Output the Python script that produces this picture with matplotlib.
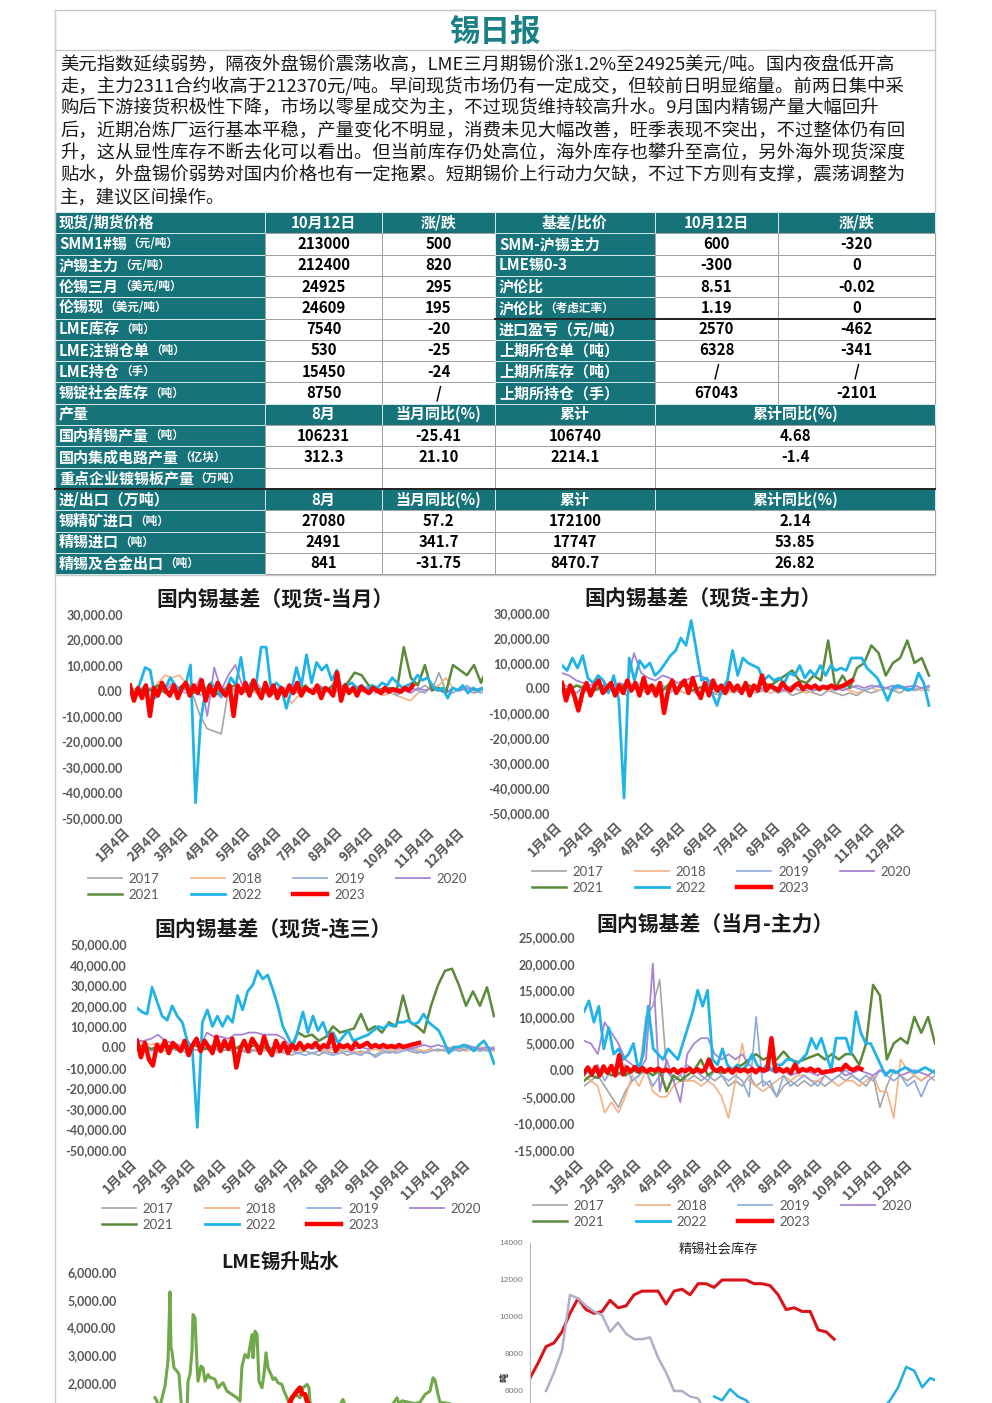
import matplotlib
matplotlib.use("Agg")
import matplotlib.pyplot as plt
import numpy as np
from matplotlib.patches import Rectangle

plt.rcParams["font.family"] = ["Noto Sans CJK SC", "DejaVu Sans"]

W, H = 992, 1403
TEAL = "#16737a"
GRID = "#a0a0a0"

# ---------------- report text ----------------
REPORT_TITLE = "锡日报"
REPORT_LINES = [
    "美元指数延续弱势，隔夜外盘锡价震荡收高，LME三月期锡价涨1.2%至24925美元/吨。国内夜盘低开高",
    "走，主力2311合约收高于212370元/吨。早间现货市场仍有一定成交，但较前日明显缩量。前两日集中采",
    "购后下游接货积极性下降，市场以零星成交为主，不过现货维持较高升水。9月国内精锡产量大幅回升",
    "后，近期冶炼厂运行基本平稳，产量变化不明显，消费未见大幅改善，旺季表现不突出，不过整体仍有回",
    "升，这从显性库存不断去化可以看出。但当前库存仍处高位，海外库存也攀升至高位，另外海外现货深度",
    "贴水，外盘锡价弱势对国内价格也有一定拖累。短期锡价上行动力欠缺，不过下方则有支撑，震荡调整为",
    "主，建议区间操作。",
]

# ---------------- table ----------------
PRICE_HEAD = ["现货/期货价格", "10月12日", "涨/跌", "基差/比价", "10月12日", "涨/跌"]
PRICE_NAMES = ["SMM1#锡", "沪锡主力", "伦锡三月", "伦锡现", "LME库存", "LME注销仓单", "LME持仓", "锡锭社会库存"]
PRICE_UNITS = ["（元/吨）", "（元/吨）", "（美元/吨）", "（美元/吨）", "（吨）", "（吨）", "（手）", "（吨）"]
PRICE_VALUES = ["213000", "212400", "24925", "24609", "7540", "530", "15450", "8750"]
PRICE_CHANGES = ["500", "820", "295", "195", "-20", "-25", "-24", "/"]
BASIS_NAMES = ["SMM-沪锡主力", "LME锡0-3", "沪伦比", "沪伦比", "进口盈亏（元/吨）", "上期所仓单（吨）", "上期所库存（吨）", "上期所持仓（手）"]
BASIS_UNITS = ["", "", "", "（考虑汇率）", "", "", "", ""]
BASIS_VALUES = ["600", "-300", "8.51", "1.19", "2570", "6328", "/", "67043"]
BASIS_CHANGES = ["-320", "0", "-0.02", "0", "-462", "-341", "/", "-2101"]

PROD_HEAD = ["产量", "8月", "当月同比(%)", "累计", "累计同比(%)"]
PROD_NAMES = ["国内精锡产量", "国内集成电路产量", "重点企业镀锡板产量"]
PROD_UNITS = ["（吨）", "（亿块）", "（万吨）"]
PROD_MONTH = ["106231", "312.3", ""]
PROD_YOY = ["-25.41", "21.10", ""]
PROD_CUM = ["106740", "2214.1", ""]
PROD_CUM_YOY = ["4.68", "-1.4", ""]

TRADE_HEAD = ["进/出口（万吨）", "8月", "当月同比(%)", "累计", "累计同比(%)"]
TRADE_NAMES = ["锡精矿进口", "精锡进口", "精锡及合金出口"]
TRADE_UNITS = ["（吨）", "（吨）", "（吨）"]
TRADE_MONTH = ["27080", "2491", "841"]
TRADE_YOY = ["57.2", "341.7", "-31.75"]
TRADE_CUM = ["172100", "17747", "8470.7"]
TRADE_CUM_YOY = ["2.14", "53.85", "26.82"]

# ---------------- basis charts (day of year series) ----------------
YEARS = ["2017", "2018", "2019", "2020", "2021", "2022", "2023"]
MONTH_DAYS = [3, 34, 62, 93, 123, 154, 184, 215, 246, 276, 307, 337]
MONTH_LABELS = [f"{m}月4日" for m in range(1, 13)]

# 现货-当月
C1_2017 = [0, 1000, -1000, 0, 1000, 0, -1000, 1000, 0, -2000, -10000, -15000, -16000, -17000, 0, 1000, 0, -1000, 1000, 0,
           -1000, 0, 1000, -1000, 0, 1000, 0, -1000, 0, 1000, 0, -1000, 1000, 0, -1000, 0, 1000, 0, -1000, 0,
           1000, 0, 2000, 0, 7000, 0, -1000, 1000, 0, -1000, 0, 1000]
C1_2018 = [0, -1000, 1000, 0, 3000, 6000, 5000, 6000, 3000, 1000, 0, -1000, 1000, 0, 2000, -1000, 1000, 0, -1000, 1000,
           0, -2000, -1000, -5000, -2000, 0, -1000, 1000, 0, -1000, 0, 1000, -1000, 0, -1000, 0, -2000, -1000, -2000, -3000,
           -4000, -1000, 0, 1000, 2000, 5000, 1000, 0, 1000, 0, 1000, 0]
C1_2019 = [1000, -1000, 2000, 0, -2000, 1000, 3000, 0, -1000, 2000, -2000, 1000, 0, -3000, 2000, 0, 1000, -1000, 3000, 0,
           -2000, 1000, 0, 2000, -1000, 0, 1000, -2000, 0, 3000, 0, -1000, 1000, 0, 2000, -1000, 0, 1000, -2000, 0,
           1000, 0, -1000, 2000, 0, -1000, 1000, 0, 2000, 0, -1000, 1000]
C1_2020 = [1000, -2000, 0, 1000, -1000, 0, 2000, 0, 1000, -1000, 5000, -10000, 9000, 0, 6000, 10000, 2000, 1000, 0, 1000,
           -1000, 0, 1000, 0, -1000, 1000, 0, 2000, 0, 1000, -1000, 0, 1000, 0, 1000, 0, -1000, 0, 1000, 0,
           -1000, 1000, 0, 1000, 0, -1000, 1000, 0, 1000, 0, 1000, 0]
C1_2021 = [0, -1000, 1000, 0, 2000, -1000, 0, 1000, 3000, -1000, 0, 1000, -2000, 0, 1000, 2000, 0, -1000, 1000, 0,
           -2000, 0, -1000, 1000, 0, 2000, -1000, 1000, 0, 2000, 1000, 3000, 7000, 6000, 2000, 1000, 0, 1000, 0, 17000,
           5000, 2000, 10000, 0, 1000, -1000, 10000, 8000, 6000, 10000, 3000, 10000]
C1_2022 = [0, -2000, 3000, 9000, 8000, -3000, 2000, 1000, 5000, 2000, 0, 2000, 10000, -44000, -12000, 0, 3000, 1000, -2000, 0,
           5000, 2000, 13000, 0, 3000, 2000, 17000, 17000, 0, 3000, 1000, -7000, 0, 9000, 2000, 14000, 3000, 11000, 8000, 10000,
           4000, 8000, 0, 2000, 3000, 1000, 2000, 0, 2000, 1000, 3000, 2000, 5000, 3000, 1000, 2000, 3000, 6000, 4000, 5000,
           2000, 0, 1000, -3000, 1000, 0, 2000, -1000, 1000, 0, 1000, 0]
C1_2023 = [2000, -4000, 1000, -3000, 2000, -10000, 1000, -2000, 3000, 0, -2000, 2000, -3000, 1000, 3000, -2000, 2000, -1000, 4000, -4000,
           2000, -2000, 3000, 0, -2000, 2000, -10000, 2000, -1000, 3000, -2000, 4000, 0, -3000, 3000, -2000, 2000, -3000, 1000, -2000,
           2000, -1000, 3000, -2000, 1000, 0, -1000, 2000, -3000, 1000, 0, -2000, 7000, -4000, 2000, -1000, 1000, -2000, 1500, 0,
           -1000, 1000, 0, -1000, 1000, -500, 500, 0, -500, 1000, 0, 2000]

# 现货-主力
C2_2017 = [0, -1000, -2000, 0, -1000, 1000, -2000, 0, -1000, -3000, 0, -1000, -2000, 0, 1000, -1000, 0, -2000, -1000, 0,
           -1000, -2000, -3000, -1000, -2000, 0, -1000, -2000, -1000, 0, -2000, -1000, -3000, -2000, -1000, -2000, -3000, -1000, -2000, -3000,
           -2000, -3000, -1000, -2000, -1000, 0, -1000, -2000, 0, -1000, 0, -1000]
C2_2018 = [-1000, 0, 1000, 0, -1000, 0, 1000, -1000, 0, 1000, 0, -1000, 0, 1000, 0, -1000, 0, -2000, -1000, 0,
           -1000, 0, -1000, -2000, -1000, 0, -1000, 0, -1000, -2000, -1000, -1000, 0, -1000, -2000, -1000, 0, -1000, -1000, 0,
           -1000, -2000, -1000, 0, -1000, 0, -1000, 0, -1000, 0, -1000, 0]
C2_2019 = [2000, 0, -2000, 1000, 0, -1000, 2000, 0, -2000, 1000, 0, 2000, -1000, 0, 1000, -2000, 0, 1000, -1000, -3000,
           0, -2000, 1000, 0, -1000, -2000, 0, 1000, -1000, 0, -2000, 0, 1000, -1000, 0, -1000, 1000, 0, -1000, 0,
           1000, 0, -1000, 0, 1000, 0, -1000, 1000, 0, -1000, 0, 1000]
C2_2020 = [6000, 5000, 3000, 2000, 1000, 2000, 0, 1000, 2000, 1000, 14000, 6000, 4000, 3000, 5000, 4000, 2000, 3000, 4000, 5000,
           4000, 2000, 0, 1000, -1000, 0, 1000, -1000, 0, 1000, 0, -1000, 0, 1000, 0, -1000, 0, 1000, 0, -1000,
           0, 1000, 0, 1000, 500, 0, 1000, 0, 500, 1000, 0, 500]
C2_2021 = [0, -1000, 1000, 0, -2000, 0, 1000, -1000, 0, 2000, 0, -1000, 1000, 0, -1000, 2000, 0, 1000, -1000, 0,
           1000, 0, -2000, 1000, 0, -1000, 1000, 0, 2000, 1000, 3000, 5000, 7000, 3000, 2000, 5000, 3000, 19000, 0, 5000,
           0, 8000, 10000, 17000, 14000, 5000, 10000, 12000, 19000, 10000, 12000, 5000]
C2_2022 = [9000, 7000, 12000, 8000, 13000, 4000, 2000, 5000, 3000, -2000, 5000, -5000, -44000, 12000, 3000, 11000, 8000, 10000, 5000, 7000,
           10000, 13000, 15000, 20000, 17000, 27000, 15000, 3000, 4000, -2000, -7000, 0, 3000, 15000, 5000, 12000, 10000, 9000, 8000, 3000,
           5000, 3000, 4000, 2000, 6000, 5000, 9000, 4000, 7000, 5000, 9000, 5000, 9000, 7000, 8000, 7000, 12000, 12000, 12000, 8000,
           6000, 4000, 0, -5000, 0, 1000, 0, -1000, 0, 6000, 2000, -7000]
C2_2023 = [2000, -5000, 1000, -3000, -9000, -2000, 2000, -3000, 1000, 3000, -2000, 0, 2000, -3000, 1000, -2000, 3000, -1000, 2000, -3000,
           4000, -2000, 1000, -3000, 2000, -10000, -1000, 3000, -2000, 1000, 3000, -2000, 4000, -1000, -4000, 2000, -3000, 3000, -1000, 1000,
           -2000, 2000, -1000, 1000, -2000, 2000, -3000, 1000, -1000, 5000, -1000, 1000, 0, -1000, 2000, 0, -1000, 1000, 2000, -500,
           1000, 0, 1000, -500, 500, 0, 1000, 0, 500, 1000, 2000, 3000]

# 现货-连三
C3_2017 = [1000, 0, -1000, 0, -2000, -1000, 0, -3000, -1000, -2000, 0, -1000, -2000, -1000, 0, -2000, -3000, -1000, -2000, -1000,
           -3000, -2000, -4000, -3000, -2000, -3000, -4000, -2000, -3000, -2000, -4000, -3000, -2000, -3000, -4000, -2000, -3000, -2000, -1000, -2000,
           -3000, -2000, -1000, -2000, -1000, -2000, -1000, 0, -1000, -2000, -1000, 0]
C3_2018 = [3000, 2000, 1000, 2000, 0, 1000, -1000, 0, 1000, 0, -1000, 0, -2000, -1000, 0, -1000, -2000, -1000, 0, -2000,
           -3000, -2000, -1000, -2000, -1000, 0, -1000, -2000, -1000, -2000, -1000, -2000, -3000, -2000, -1000, -2000, -1000, -2000, -1000, 0,
           -1000, -2000, -1000, -2000, -1000, 0, -1000, -2000, -1000, 0, -1000, -2000]
C3_2019 = [0, -1000, -2000, -1000, 0, -1000, -2000, 0, -1000, -2000, -1000, 0, -2000, -1000, -3000, -2000, -1000, -2000, -1000, 0,
           -2000, -3000, -2000, -3000, -4000, -3000, -2000, -3000, -4000, -3000, -2000, -3000, -4000, -2000, -5000, -3000, -2000, -3000, -2000, -1000,
           -2000, -3000, -2000, -1000, -2000, -1000, -2000, -1000, 0, -1000, -2000, -1000]
C3_2020 = [3000, 3000, 4000, 6000, 3000, 2000, 1000, 0, 1000, 0, 7000, 5000, 5000, 4000, 6000, 6000, 7000, 7000, 6000, 6000,
           6000, 4000, 0, -1000, 0, -1000, 0, -1000, 0, -1000, 0, -1000, 0, -1000, 0, -1000, 0, -1000, 0, -1000,
           0, 1000, 0, 1000, 0, -1000, 0, 1000, 0, -1000, 0, -1000]
C3_2021 = [0, 1000, -1000, 0, 1000, 0, -1000, 0, 1000, 0, -1000, 1000, 0, 0, -1000, 1000, 0, 1000, 0, -1000,
           0, 1000, 0, 7000, 5000, 6000, 3000, 5000, 10000, 7000, 8000, 9000, 16000, 8000, 10000, 7000, 12000, 10000, 25000, 12000,
           10000, 7000, 20000, 30000, 37000, 38000, 30000, 20000, 27000, 20000, 29000, 15000]
C3_2022 = [19000, 17000, 16000, 29000, 22000, 15000, 13000, 20000, 15000, 12000, 3000, -1000, -39000, 12000, 18000, 10000, 15000, 10000, 15000, 12000,
           25000, 18000, 27000, 30000, 37000, 33000, 35000, 28000, 20000, 10000, 5000, 0, 8000, 17000, 7000, 15000, 8000, 12000, 5000, 7000,
           2000, 5000, 8000, 3000, 4000, 5000, 6000, 8000, 10000, 9000, 11000, 10000, 12000, 12000, 13000, 11000, 12000, 16000, 12000, 10000,
           8000, 3000, -3000, 0, 0, 1000, 0, -2000, 1000, 3000, -1000, -8000]
C3_2023 = [3000, -5000, 2000, -6000, -9000, 1000, -2000, 3000, -3000, 2000, 0, -2000, 3000, -4000, 1000, 4000, -2000, 3000, 0, -3000,
           5000, -2000, 3000, -1000, 4000, -10000, -1000, 3000, -2000, 4000, 1000, -3000, 5000, -1000, -4000, 3000, -2000, 2000, -3000, 1000,
           -1000, 2000, -1000, 1000, 0, 2000, -1000, 1000, 0, 6000, -2000, 1000, 0, 1000, -1000, 2000, 0, 1000, 2000, 0,
           1000, 0, 1000, 0, 500, 0, 1000, 0, 500, 1000, 1500, 2000]

# 当月-主力
C4_2017 = [-3000, -2000, -1000, -3000, -5000, -7000, -4000, -2000, -1000, 10000, 12000, 17000, 0, -2000, -1000, -2000, -1000, -2000, -1000, -2000,
           -1000, -3000, -2000, -3000, -1000, -3000, -2000, -3000, -5000, -3000, -2000, -3000, -2000, -3000, -2000, -3000, -2000, -1000, -2000, -1000,
           -2000, -3000, -1000, -7000, -3000, 0, -1000, -2000, -1000, -2000, -1000, -2000]
C4_2018 = [-1000, -2000, -3000, -8000, -6000, -8000, -5000, -1000, -3000, 0, -4000, -5000, -5000, -3000, -2000, -2000, -2000, -3000, -2000, -3000,
           -5000, -9000, -2000, 5000, -2000, -3000, -4000, -3000, -2000, -1000, -2000, -1000, -1000, -2000, -2000, -1000, -2000, -3000, -2000, -2000,
           -3000, -2000, -1000, -4000, -4000, -9000, 2000, 0, -1000, -2000, -1000, -2000]
C4_2019 = [-1000, 0, 1000, -2000, 0, -1000, 1000, -2000, -1000, 0, -3000, -1000, 0, -2000, -1000, 1000, 0, -1000, -2000, 0,
           -1000, -2000, -1000, -2000, -5000, 10000, -3000, -2000, -5000, -1000, -3000, -2000, -1000, -2000, -3000, -1000, -2000, -1000, 0, -1000,
           -2000, -1000, -2000, 0, -1000, -2000, -1000, -3000, -2000, -5000, -2000, -1000]
C4_2020 = [5500, 5000, 3000, 9000, 7000, 5000, 2000, 1000, 0, 2000, 20000, -4000, 2000, -2000, -6000, 3000, 5000, 6000, 6000, 3000,
           2000, 3000, 2000, 3000, 1000, 0, -500, 0, -500, 0, -1000, -500, 0, -500, -1000, 0, -500, 0, -1000, -500,
           0, -500, -1000, 0, -500, 0, -1000, -500, 0, -500, -1000, 0]
C4_2021 = [-2000, -1000, -1500, 0, -1000, -500, -1000, 0, -500, 0, -1000, 0, -4000, -1000, -2000, -1000, 0, 2000, -1000, 0,
           -500, 0, 500, 1000, 2000, 3000, 2000, 2500, 2000, 3500, 2000, 1500, 2000, 2500, 3000, 2000, 3000, 2000, 3000, 3000,
           1000, 5000, 16000, 14000, 2000, 5000, 6000, 5000, 10000, 7000, 10000, 5000]
C4_2022 = [11000, 13000, 9000, 12000, 4000, 8000, 3000, 4000, 2000, 3000, 5000, 0, 3000, 12000, 4000, 3000, 2000, 4000, 3000, 2000,
           5000, 8000, 11000, 15000, 12000, 15000, 2000, 1000, 4000, 1000, 0, 1000, 0, 1000, 3000, 1000, 0, 1000, 0, 1000,
           1000, 2000, 2000, 1000, 2000, 3000, 6000, 4000, 6000, 3000, 0, 6000, 6000, 6000, 3000, 11000, 7000, 5000, 5000, 3000,
           1000, -1000, 0, -500, 0, 500, 0, -500, 0, 500, 0, -500]
C4_2023 = [-500, 500, -800, 600, -1000, 700, -500, 800, -1000, 2800, -800, 500, -300, 600, -200, 400, -300, 200, -100, 300,
           -200, 100, -300, 200, -500, 100, -200, 300, -400, 200, -300, 100, 2000, 300, -200, 400, -300, 200, -500, 300,
           -200, 100, -300, 200, -400, 300, -100, 200, 6000, -200, 300, -300, 200, -500, 1000, -300, 200, -100, 300, -200,
           100, -500, -300, -200, 0, 200, 100, 1000, 300, 0, 500, 200]

# LME升贴水 (day of year, value)
LME_GREEN_DAYS = [30, 32, 34, 36, 40, 43, 45, 46, 47, 49, 52, 54, 56, 58, 62, 63, 65, 67, 68, 70, 72, 73, 76, 78, 80, 83, 85, 87,
                  90, 93, 96, 98, 102, 107, 112, 115, 117, 120, 123, 127, 128, 130, 132, 134, 137, 139, 141, 143, 146, 148,
                  150, 153, 157, 159, 162, 163, 167, 170, 175, 178, 182, 184, 185, 190, 200, 210, 218, 220, 230, 245, 260,
                  272, 274, 277, 290, 295, 300, 305, 308, 310, 313, 315, 325, 335]
LME_GREEN = [1460, 1340, 1000, 1300, 1880, 2780, 5280, 3260, 3140, 2540, 2420, 2300, 1340, 800, 900, 2060, 2300, 3140, 4460, 4340,
             2660, 2060, 2600, 2540, 2060, 2300, 2180, 2180, 2120, 1820, 1940, 2000, 1700, 1580, 1460, 1340, 2600, 3020, 2900,
             3740, 2900, 3860, 3740, 2060, 1820, 2300, 3080, 2540, 2300, 2120, 2180, 2000, 1940, 1700, 1460, 1340, 1460, 1580,
             1460, 1820, 1940, 1820, 1300, 800, 600, 900, 1400, 1200, 700, 900, 800, 1460, 1250, 1350, 1250, 1300, 1580, 1700,
             2180, 2100, 1580, 1300, 1250, 900]
LME_RED_DAYS = [150, 158, 164, 167, 170, 172, 175, 177, 180, 182, 184, 190]
LME_RED = [700, 900, 1200, 1460, 1600, 1700, 1820, 1600, 1580, 1340, 1200, 900]

# 精锡社会库存 (weekly)
STOCK_RED = [6700, 7500, 8400, 8600, 9200, 10200, 11000, 10400, 10200, 10300, 10900, 10500, 10600, 11200, 11400, 11400, 11400,
             10700, 11400, 11500, 11200, 11800, 11800, 11600, 12000, 12000, 12000, 12000, 11800, 11800, 11700, 11200, 10400,
             10500, 10300, 10300, 9300, 9200, 8800]
STOCK_GRAY = [6000, 7000, 8200, 11200, 11000, 10600, 10300, 10100, 9200, 9700, 9100, 8800, 8800, 8900, 7800, 7000, 6000, 6000,
              5700, 5600, 4800, 4200, 3800, 3500]
STOCK_BLUE = [5700, 5500, 6100, 5700, 5500, 5000, 4600, 4300, 4000, 3800, 3600, 3500, 3400, 3300, 3400, 3500, 3700, 3900, 4200,
              4500, 4700, 5000, 5500, 6200, 7300, 7100, 6200, 6700, 6500]

COLORS = {"2017": "#a5a5a5", "2018": "#f4b183", "2019": "#8ea9db", "2020": "#a884d6",
          "2021": "#5a8a3a", "2022": "#1fb3e8", "2023": "#ff0000"}
WIDTHS = {"2017": 1.2, "2018": 1.2, "2019": 1.2, "2020": 1.3, "2021": 1.8, "2022": 2.0, "2023": 3.2}
YEAR_END, RED_END = 357, 282

fig = plt.figure(figsize=(W / 100, H / 100), dpi=100)
page = fig.add_axes([0, 0, 1, 1])
page.set_xlim(0, W)
page.set_ylim(H, 0)
page.axis("off")


def px_axes(left, top, right, bottom):
    ax = fig.add_axes([left / W, 1 - bottom / H, (right - left) / W, (bottom - top) / H])
    ax.set_facecolor("none")
    return ax


# ---------- header + paragraph ----------
page.add_patch(Rectangle((55, 10), 880, 565, facecolor="none", edgecolor="#c8c8c8", lw=1))
page.plot([55, 935], [50, 50], color="#c8c8c8", lw=1)
page.plot([55, 55], [10, H], color="#cfcfcf", lw=1)
page.text(495, 32, REPORT_TITLE, ha="center", va="center", fontsize=22, fontweight="bold", color="#1b8085")
for i, line in enumerate(REPORT_LINES):
    page.text(60, 65 + i * 22.1, line, ha="left", va="center", fontsize=13.2, color="#1a1a1a")

# ---------- table ----------
ROW_TOP, ROW_H = 212, 21.3
PRICE_COLS = [55, 265, 382, 495, 655, 778, 935]
PROD_COLS = [55, 265, 382, 495, 655, 935]


def cell(x0, x1, row, teal):
    y0 = ROW_TOP + row * ROW_H
    page.add_patch(Rectangle((x0, y0), x1 - x0, ROW_H, facecolor=TEAL if teal else "white",
                             edgecolor="#d8e8e8" if teal else GRID, lw=0.7))
    return y0 + ROW_H / 2


def label(x, y, name, unit, color="white", size=10.8):
    t = page.text(x, y, name, ha="left", va="center", fontsize=size, fontweight="bold", color=color)
    if unit:
        page.annotate(unit, xy=(1, 0.5), xycoords=t, ha="left", va="center",
                      fontsize=8.4, fontweight="bold", color=color)


def centered(x0, x1, y, s, color="black"):
    page.text((x0 + x1) / 2, y, s, ha="center", va="center", fontsize=10.8, fontweight="bold", color=color)


# price / basis block
for c in range(6):
    y = cell(PRICE_COLS[c], PRICE_COLS[c + 1], 0, True)
    if c == 0:
        label(59, y, PRICE_HEAD[0], "")
    else:
        centered(PRICE_COLS[c], PRICE_COLS[c + 1], y, PRICE_HEAD[c], "white")
for r in range(8):
    row = r + 1
    y = cell(PRICE_COLS[0], PRICE_COLS[1], row, True)
    label(59, y, PRICE_NAMES[r], PRICE_UNITS[r])
    cell(PRICE_COLS[1], PRICE_COLS[2], row, False)
    centered(PRICE_COLS[1], PRICE_COLS[2], y, PRICE_VALUES[r])
    cell(PRICE_COLS[2], PRICE_COLS[3], row, False)
    centered(PRICE_COLS[2], PRICE_COLS[3], y, PRICE_CHANGES[r])
    cell(PRICE_COLS[3], PRICE_COLS[4], row, True)
    label(499, y, BASIS_NAMES[r], BASIS_UNITS[r])
    cell(PRICE_COLS[4], PRICE_COLS[5], row, False)
    centered(PRICE_COLS[4], PRICE_COLS[5], y, BASIS_VALUES[r])
    cell(PRICE_COLS[5], PRICE_COLS[6], row, False)
    centered(PRICE_COLS[5], PRICE_COLS[6], y, BASIS_CHANGES[r])
page.plot([495, 935], [ROW_TOP + 5 * ROW_H] * 2, color="#222222", lw=1.4)


def block(first_row, head, names, units, cols_data):
    for c in range(5):
        y = cell(PROD_COLS[c], PROD_COLS[c + 1], first_row, True)
        if c == 0:
            label(59, y, head[0], "")
        else:
            centered(PROD_COLS[c], PROD_COLS[c + 1], y, head[c], "white")
    for r in range(3):
        row = first_row + 1 + r
        y = cell(PROD_COLS[0], PROD_COLS[1], row, True)
        label(59, y, names[r], units[r])
        for c in range(4):
            cell(PROD_COLS[c + 1], PROD_COLS[c + 2], row, False)
            centered(PROD_COLS[c + 1], PROD_COLS[c + 2], y, cols_data[c][r])


block(9, PROD_HEAD, PROD_NAMES, PROD_UNITS, [PROD_MONTH, PROD_YOY, PROD_CUM, PROD_CUM_YOY])
block(13, TRADE_HEAD, TRADE_NAMES, TRADE_UNITS, [TRADE_MONTH, TRADE_YOY, TRADE_CUM, TRADE_CUM_YOY])
page.plot([55, 935], [ROW_TOP + 13 * ROW_H] * 2, color="#222222", lw=1.4)


# ---------- basis charts ----------
def basis_chart(box, xmax, ylim, ystep, series, title, title_xy, legend_xy, ypad):
    ax = px_axes(*box)
    lines = []
    for year, vals in zip(YEARS, series):
        end = RED_END if year == "2023" else YEAR_END
        x = np.linspace(0, end, len(vals))
        ln, = ax.plot(x, vals, color=COLORS[year], lw=WIDTHS[year], label=year, solid_joinstyle="round")
        lines.append(ln)
    ax.set_xlim(0, xmax)
    ax.set_ylim(*ylim)
    yt = np.arange(ylim[0], ylim[1] + 1, ystep)
    ax.set_yticks(yt)
    ax.set_yticklabels([f"{v:,.2f}" for v in yt], fontfamily="Lato", fontsize=9, fontweight="bold", color="#595959")
    ax.set_xticks(MONTH_DAYS)
    ax.set_xticklabels(MONTH_LABELS, rotation=45, ha="right", va="top", fontsize=9.5,
                       fontweight="bold", color="#595959")
    ax.tick_params(axis="both", length=0)
    ax.tick_params(axis="y", pad=ypad * 0.72)
    ax.tick_params(axis="x", pad=5)
    for s in ax.spines.values():
        s.set_visible(False)
    page.text(title_xy[0], title_xy[1], title, ha="center", va="center", fontsize=15, fontweight="bold", color="#1a1a1a")
    order = [0, 4, 1, 5, 2, 6, 3]
    ax.legend([lines[i] for i in order], [YEARS[i] for i in order], loc="upper left", ncol=4,
              bbox_to_anchor=legend_xy, bbox_transform=page.transData, frameon=False, borderpad=0,
              borderaxespad=0, handlelength=2.6, handletextpad=0.5, columnspacing=2.35, labelspacing=0.3,
              prop={"family": "Lato", "size": 9.5}, labelcolor="#595959")
    return ax


basis_chart((130, 614, 483, 818), 352, (-50000, 30000), 10000,
            [C1_2017, C1_2018, C1_2019, C1_2020, C1_2021, C1_2022, C1_2023],
            "国内锡基差（现货-当月）", (275, 600), (88, 873), 7)
basis_chart((562, 613, 932, 813), 360, (-50000, 30000), 10000,
            [C2_2017, C2_2018, C2_2019, C2_2020, C2_2021, C2_2022, C2_2023],
            "国内锡基差（现货-主力）", (703, 599), (532, 866), 12)
basis_chart((137, 944, 495, 1150), 358, (-50000, 50000), 10000,
            [C3_2017, C3_2018, C3_2019, C3_2020, C3_2021, C3_2022, C3_2023],
            "国内锡基差（现货-连三）", (273, 930), (102, 1203), 10)
basis_chart((584, 937, 935, 1150), 357, (-15000, 25000), 5000,
            [C4_2017, C4_2018, C4_2019, C4_2020, C4_2021, C4_2022, C4_2023],
            "国内锡基差（当月-主力）", (715, 925), (533, 1200), 9)

# ---------- LME 升贴水 ----------
ax5 = px_axes(125, 1258, 490, 1466)
ax5.plot(LME_GREEN_DAYS, LME_GREEN, color="#70a84a", lw=2.2, solid_joinstyle="round")
ax5.plot(LME_RED_DAYS, LME_RED, color="#ff0000", lw=3.5, solid_joinstyle="round")
ax5.set_xlim(0, 365)
ax5.set_ylim(-1000, 6500)
yt5 = np.arange(2000, 6001, 1000)
ax5.set_yticks(yt5)
ax5.set_yticklabels([f"{v:,.2f}" for v in yt5], fontfamily="Lato", fontsize=9, fontweight="bold", color="#595959")
ax5.set_xticks([])
ax5.tick_params(length=0, pad=6)
for s in ax5.spines.values():
    s.set_visible(False)
page.text(280, 1262, "LME锡升贴水", ha="center", va="center", fontsize=14, fontweight="bold", color="#1a1a1a")

# ---------- 精锡社会库存 ----------
ax6 = px_axes(530, 1243, 935, 1502)
ax6.plot(np.arange(len(STOCK_RED)), STOCK_RED, color="#d9151b", lw=2.2)
ax6.plot(np.arange(2, 2 + len(STOCK_GRAY)), STOCK_GRAY, color="#b3aec8", lw=1.8)
ax6.plot(np.arange(23, 23 + len(STOCK_BLUE)), STOCK_BLUE, color="#22aee0", lw=1.8)
ax6.set_xlim(0, 50.6)
ax6.set_ylim(0, 14000)
yt6 = np.arange(6000, 14001, 2000)
ax6.set_yticks(yt6)
ax6.set_yticklabels([str(v) for v in yt6], fontfamily="Liberation Sans", fontsize=6, color="#777777")
ax6.set_xticks([])
ax6.tick_params(length=0, pad=5)
for k in ["top", "right", "bottom"]:
    ax6.spines[k].set_visible(False)
ax6.spines["left"].set_color("#bbbbbb")
page.text(505, 1377, "吨", ha="center", va="center", rotation=90, fontsize=6.5, fontweight="bold", color="#222222")
page.text(718, 1249, "精锡社会库存", ha="center", va="center", fontsize=9.5, color="#222222")

fig.savefig("out.png", dpi=100)
